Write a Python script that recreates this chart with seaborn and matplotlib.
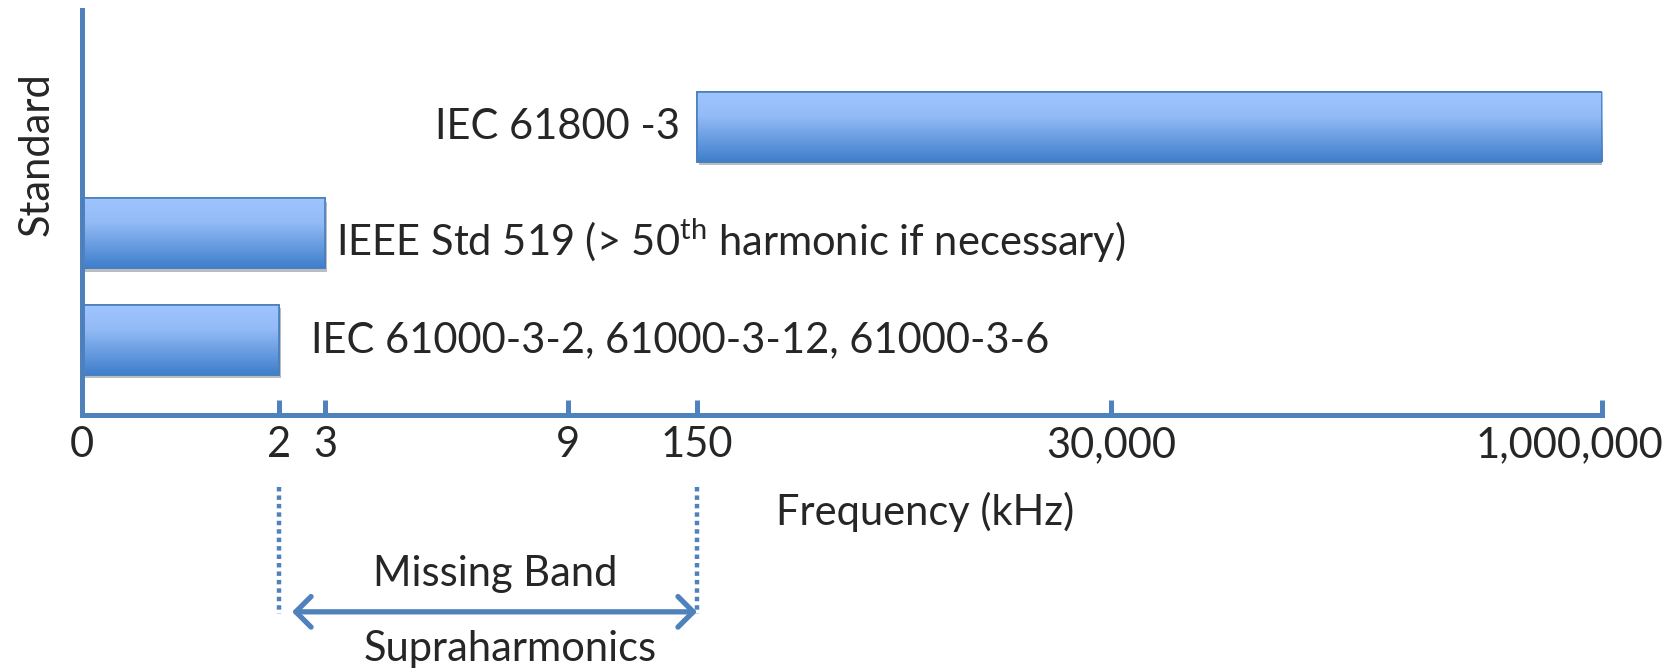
import numpy as np
import pandas as pd
import matplotlib.pyplot as plt
import seaborn as sns
from matplotlib import patheffects as pe
from matplotlib import transforms
from matplotlib.colors import LinearSegmentedColormap
from matplotlib.patches import Rectangle

# data (kHz)
standards = ["IEC 61800 -3",
             "IEEE Std 519 (> 50$^{\\mathrm{th}}$ harmonic if necessary)",
             "IEC 61000-3-2, 61000-3-12, 61000-3-6"]
band_start = [150, 0, 0]
band_end = [1000000, 3, 2]
tick_values = [0, 2, 3, 9, 150, 30000, 1000000]
tick_labels = ["0", "2", "3", "9", "150", "30,000", "1,000,000"]
missing_band = [2, 150]

# where each tick sits along the (non-uniform) axis, as a fraction of its length
tick_spots = [0, 0.1296, 0.160, 0.3195, 0.4046, 0.677, 1.0]

def fwd(x):
    return np.interp(x, tick_values, tick_spots)

def inv(x):
    return np.interp(x, tick_spots, tick_values)

axis_col = "#4F81BD"
edge_col = "#4A7EBB"
grad_cmap = LinearSegmentedColormap.from_list(
    "bar", [(0, "#9FC5FD"), (0.35, "#93BBF6"), (1, "#3E7ECB")])

sns.set_style("white")
plt.rcParams["font.family"] = ["Lato", "DejaVu Sans"]
plt.rcParams["mathtext.fontset"] = "custom"
plt.rcParams["mathtext.rm"] = "Lato"
fs = 30

df = pd.DataFrame({"standard": standards, "start": band_start, "end": band_end})

fig = plt.figure(figsize=(16.67, 6.71), dpi=100)
ax = fig.add_axes([82 / 1667, 1 - 415 / 671, 1520 / 1667, 405 / 671])

sns.barplot(data=df, x="end", y="standard", orient="h", ax=ax, color="#3E7ECB",
            edgecolor=edge_col, linewidth=1.2, width=0.66)

ax.set_xscale("function", functions=(fwd, inv))
ax.set_xlim(0, 1000000)
ax.set_ylim(2.706, -1.097)

# move the bars so they span start..end
for patch, s, e in zip(ax.patches, band_start, band_end):
    patch.set_x(s)
    patch.set_width(e - s)
    patch.set_zorder(1)
    patch.set_path_effects([pe.SimplePatchShadow(offset=(1.5, -2.5), alpha=0.3), pe.Normal()])

# vertical gradient fill, clipped to each bar
grad = np.linspace(0, 1, 256).reshape(-1, 1)
for patch in list(ax.patches):
    bb = patch.get_extents().transformed(ax.transAxes.inverted())
    im = ax.imshow(grad, cmap=grad_cmap, extent=[bb.x0, bb.x1, bb.y0, bb.y1],
                   transform=ax.transAxes, aspect="auto", zorder=2)
    im.set_clip_path(patch)
    ax.add_patch(Rectangle((patch.get_x(), patch.get_y()), patch.get_width(), patch.get_height(),
                           fill=False, edgecolor=edge_col, linewidth=1.2, zorder=3))
ax.set_xlim(0, 1000000)
ax.set_ylim(2.706, -1.097)

# bar labels
label_side = ["left", "right", "right"]
label_gap = [12, 8, 23]   # points between bar and text
label_dy = [0, -5, 0]     # small vertical nudge, points
for i, (name, s, e) in enumerate(zip(standards, band_start, band_end)):
    if label_side[i] == "left":
        ax.annotate(name, xy=(s, i), xytext=(-label_gap[i], label_dy[i]), textcoords="offset points",
                    ha="right", va="center", fontsize=fs)
    else:
        ax.annotate(name, xy=(e, i), xytext=(label_gap[i], label_dy[i]), textcoords="offset points",
                    ha="left", va="center", fontsize=fs)

# axes styling
sns.despine(ax=ax)
for side in ["left", "bottom"]:
    ax.spines[side].set_color(axis_col)
    ax.spines[side].set_linewidth(3.6)
    ax.spines[side].set_zorder(2.5)
ax.set_xticks(tick_values, tick_labels)
ax.tick_params(axis="x", bottom=True, direction="in", length=10.8, width=3.6, color=axis_col,
               labelsize=fs, pad=8)
# last label sits a little left of its tick, as in the original
last = ax.get_xticklabels()[-1]
last.set_transform(last.get_transform() + transforms.ScaledTranslation(-0.33, 0, fig.dpi_scale_trans))
ax.set_yticks([])
ax.set_xlabel("Frequency (kHz)", fontsize=fs, va="center")
ax.xaxis.set_label_coords(0.5546, -0.2395)
ax.set_ylabel("Standard", fontsize=fs, va="center")
ax.yaxis.set_label_coords(-0.0296, 0.644)

# missing band annotation
trans = transforms.blended_transform_factory(ax.transData, ax.transAxes)
for xv in missing_band:
    ax.plot([xv, xv], [-0.178, -0.491], transform=trans, clip_on=False,
            color=axis_col, lw=3.2, dashes=(1.0, 0.9))
ax.annotate("", xy=(missing_band[1], -0.486), xytext=(missing_band[0], -0.486),
            xycoords=trans, textcoords=trans, annotation_clip=False,
            arrowprops=dict(arrowstyle="<->,head_length=0.55,head_width=0.55", color=axis_col,
                            lw=3.8, shrinkA=9.4, shrinkB=0, mutation_scale=20,
                            capstyle="round", joinstyle="round"))
ax.text(inv(fwd(missing_band[0]) + 0.142), -0.393, "Missing Band", transform=trans,
        ha="center", va="center", fontsize=fs)
ax.text(inv(fwd(missing_band[0]) + 0.152), -0.578, "Supraharmonics", transform=trans,
        ha="center", va="center", fontsize=fs)

fig.savefig("out.png", dpi=100)
